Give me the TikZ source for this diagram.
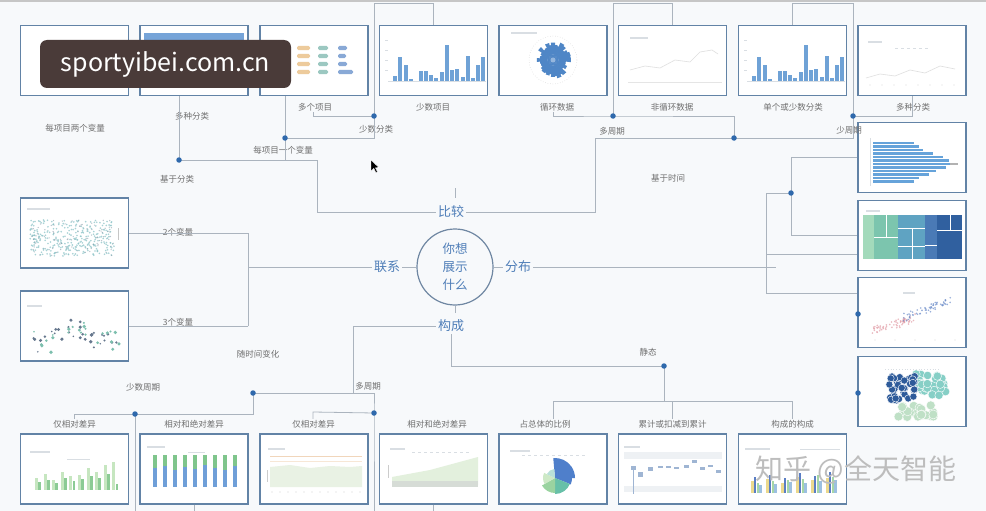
\documentclass[tikz,border=0pt]{standalone}
\usepackage{fontspec}
\setmainfont{Noto Sans CJK SC}
\usetikzlibrary{calc}
\definecolor{bgc}{HTML}{F7F9FB}
\definecolor{boxc}{HTML}{6283A6}
\definecolor{linec}{HTML}{ABB4BE}
\definecolor{dotc}{HTML}{2F69AC}
\definecolor{labc}{HTML}{6F6F6F}
\definecolor{catc}{HTML}{4F7EB8}
\definecolor{ringc}{HTML}{6F87A2}
\definecolor{barc}{HTML}{6FA2D6}
\definecolor{wmc}{HTML}{4A3B39}
\definecolor{faint}{HTML}{D9DEE3}
\definecolor{hdrc}{HTML}{76A4D8}
\definecolor{orc}{HTML}{EDCB9C}
\definecolor{tlc}{HTML}{9CC8C1}
\definecolor{pbc}{HTML}{89A9D6}
\definecolor{polc}{HTML}{4F86C6}
\definecolor{hbc}{HTML}{66A3DA}
\definecolor{tm1}{HTML}{A3DABB}
\definecolor{tm2}{HTML}{7CC5AE}
\definecolor{tm3}{HTML}{5FA3C2}
\definecolor{tm4}{HTML}{4A7AB6}
\definecolor{tm5}{HTML}{30609F}
\definecolor{pkc}{HTML}{E29CA6}
\definecolor{sbl}{HTML}{6F8FCB}
\definecolor{bgn}{HTML}{BFE0C6}
\definecolor{btl}{HTML}{86CFC6}
\definecolor{bdb}{HTML}{2E5B9A}
\definecolor{scl}{HTML}{8CC3C7}
\definecolor{scd}{HTML}{6E8596}
\definecolor{ldk}{HTML}{67788E}
\definecolor{ltl}{HTML}{7DBFAE}
\definecolor{glt}{HTML}{C6E6C0}
\definecolor{gdk}{HTML}{8CCB95}
\definecolor{sgc}{HTML}{7FC58C}
\definecolor{sbc}{HTML}{6F9FD8}
\definecolor{ar1}{HTML}{E9F2E4}
\definecolor{ar2}{HTML}{F1D6BB}
\definecolor{ar3}{HTML}{E3F0DD}
\definecolor{ar4}{HTML}{D6DCD6}
\definecolor{pbl}{HTML}{4F7FCB}
\definecolor{ptl}{HTML}{67C0A8}
\definecolor{pgn}{HTML}{9AD3A0}
\definecolor{ppl}{HTML}{CDE9C6}
\definecolor{plt}{HTML}{B8E0D8}
\definecolor{wfc}{HTML}{9FB5D3}
\definecolor{wfb}{HTML}{EEF1F4}
\definecolor{yel}{HTML}{EBD98E}
\definecolor{gbl}{HTML}{5A7EC4}
\definecolor{ggn}{HTML}{A6D6A6}
\definecolor{glb}{HTML}{9CC0E0}
\definecolor{zhc}{HTML}{BDBDBD}
\begin{document}
\begin{tikzpicture}[x=1pt,y=-1pt,
  box/.style={draw=boxc,line width=1.3pt,fill=white,minimum width=108pt,minimum height=70pt,inner sep=0pt},
  conn/.style={draw=linec,line width=0.8pt},
  dotn/.style={circle,fill=dotc,inner sep=0pt,minimum size=5.5pt},
  lbl/.style={font=\fontsize{8.5}{9}\selectfont,text=labc,inner sep=1pt},
  catl/.style={font=\fontsize{13}{13}\selectfont,text=catc,inner sep=2pt},
  fl/.style={draw=faint,line width=1.2pt}]
\fill[bgc] (0,0) rectangle (986,511);
\useasboundingbox (0,0) rectangle (986,511);
\draw[line width=1.5pt,color=gray!45] (0,1) -- (986,1);
\coordinate (top) at (0,3.5);
\coordinate (bot) at (0,511);

% ---------- boxes
\foreach \n/\x in {t1/74.5,t2/194,t3/314,t4/433.5,t5/553,t6/672.5,t7/792.5,t8/912}
  \node[box] (\n) at (\x,60.5) {};
\foreach \n/\y in {r1/157.5,r2/235.5,r3/312.5,r4/391.5}
  \node[box] (\n) at (912,\y) {};
\foreach \n/\y in {l1/233,l2/326}
  \node[box] (\n) at (74.5,\y) {};
\foreach \n/\x in {b1/74.5,b2/194,b3/314,b4/433.5,b5/553,b6/672.5,b7/792.5}
  \node[box] (\n) at (\x,469) {};

% ---------- thumbnails: top row
\fill[hdrc] (144,33) rectangle (244,40);
\foreach \y in {48,56,64,72}{
  \fill[orc,rounded corners=1.5pt] (297,\y-2.2) rectangle (310,\y+2.2);
  \fill[tlc,rounded corners=1.5pt] (318,\y-2.2) rectangle (328,\y+2.2);}
\foreach \y/\w in {48/9,56/8,64/9,72/15}
  \fill[pbc,rounded corners=1.5pt] (338,\y-2.2) rectangle (338+\w,\y+2.2);
\foreach \s in {0,359}{
  \begin{scope}[xshift=\s pt]
  \draw[faint,line width=0.5pt] (388,81.5) -- (486,81.5);
  \foreach \yy in {40,50,60,70} \draw[faint,line width=0.5pt] (385,\yy) -- (388,\yy);
  \foreach \x/\h in {395/5,400/24,406/16,411/2,421/10,426/10,431/6,436/3,442/9,447/36,452/11,457/12,463/4,468/25,473/3,478/16,483/24}
    \fill[barc] (\x-1.6,81) rectangle (\x+1.6,81-\h);
  \end{scope}}
\draw[gray!35,line width=0.5pt,dotted] (553,60) circle[radius=24];
\pgfmathsetseed{7}
\foreach \a in {0,10,...,350}{
  \pgfmathsetmacro\r{12+7*rnd}
  \pgfmathsetmacro\aa{\a-7}
  \pgfmathsetmacro\ab{\a+7}
  \fill[polc] (553,60) -- ($(553,60)+(\aa:\r)$) -- ($(553,60)+(\ab:\r)$) -- cycle;}
\fill[polc!60!white] (553,60) circle[radius=2.5];
\draw[fl] (511,33) -- (537,33);
\draw[fl] (630,38) -- (648,38);
\draw[gray!25,line width=0.6pt] (630,70) -- (645,66) -- (660,68) -- (675,60) -- (690,62) -- (700,52) -- (712,50) -- (718,54);
\draw[gray!20,line width=0.5pt] (628,82) -- (722,82);
\draw[fl] (868,42) -- (882,42);
\draw[faint,line width=0.8pt,dashed] (895,48) -- (930,48);
\draw[gray!25,line width=0.6pt] (866,78) -- (880,74) -- (895,76) -- (910,70) -- (925,73) -- (940,66) -- (955,69);
\foreach \x in {870,882,...,960} \fill[gray!30] (\x,85) circle[radius=0.7];

% ---------- right column
\foreach \y/\e in {143/914,146.5/919,150/923,153.5/933,157/943,160.5/949,164/958,167.5/946,171/936,174.5/929,178/919,181.5/914}
  \fill[hbc] (873,\y-1.4) rectangle (\e,\y+1.4);
\fill[gray!60] (950,162.6) rectangle (958,165.4);
\draw[faint,line width=0.5pt] (870,138) -- (870,186);
\draw[fl] (866,211) -- (880,211);
\fill[tm1] (863,215) rectangle (874,259);
\fill[tm2] (874,215) rectangle (898,259);
\fill[tm3] (898,215) rectangle (925,259);
\fill[tm4] (925,215) rectangle (937,259);
\fill[tm5] (937,215) rectangle (962,259);
\draw[white,line width=0.4pt] (874,237) -- (898,237) (898,228) -- (925,228) (898,246) -- (925,246) (925,245) -- (937,245) (937,230) -- (962,230) (886,215) -- (886,237) (912,228) -- (912,259) (950,215) -- (950,230);
\pgfmathsetseed{21}
\foreach \i in {1,...,70}{
  \pgfmathsetmacro\t{rnd}
  \pgfmathsetmacro\px{873+42*\t+6*(rnd-0.5)}
  \pgfmathsetmacro\py{331-13*\t+8*(rnd-0.5)}
  \fill[pkc,opacity=.7] (\px,\py) circle[radius=0.9];}
\foreach \i in {1,...,60}{
  \pgfmathsetmacro\t{rnd}
  \pgfmathsetmacro\px{905+45*\t+6*(rnd-0.5)}
  \pgfmathsetmacro\py{318-18*\t+8*(rnd-0.5)}
  \fill[sbl,opacity=.7] (\px,\py) circle[radius=0.9];}
\foreach \x in {875,895,...,955} \fill[gray!30] (\x,340) circle[radius=0.7];
\draw[fl] (903,293) -- (915,293);
\draw[faint,line width=0.8pt,dotted] (885,369) -- (940,369);
\pgfmathsetseed{33}
\foreach \i in {1,...,26}{
  \pgfmathsetmacro\px{916+36*(rnd-0.5)}
  \pgfmathsetmacro\py{411+12*(rnd-0.5)}
  \fill[bgn,draw=white,line width=0.4pt] (\px,\py) circle[radius=4.5];}
\foreach \i in {1,...,36}{
  \pgfmathsetmacro\px{931+30*(rnd-0.5)}
  \pgfmathsetmacro\py{385+22*(rnd-0.5)}
  \fill[btl,draw=white,line width=0.4pt] (\px,\py) circle[radius=4.2];}
\foreach \i in {1,...,40}{
  \pgfmathsetmacro\px{902+26*(rnd-0.5)}
  \pgfmathsetmacro\py{389+26*(rnd-0.5)}
  \fill[bdb,draw=white,line width=0.4pt] (\px,\py) circle[radius=3.6];}

% ---------- left column
\draw[fl] (27,209) -- (50,209);
\pgfmathsetseed{3}
\foreach \i in {1,...,300}{
  \pgfmathsetmacro\px{30+84*rnd}
  \pgfmathsetmacro\py{220+36*rnd}
  \fill[scl,opacity=0.75] (\px,\py) circle[radius=0.9];}
\foreach \i in {1,...,90}{
  \pgfmathsetmacro\px{30+84*rnd}
  \pgfmathsetmacro\py{220+36*rnd}
  \fill[scd,opacity=0.5] (\px,\py) circle[radius=0.7];}
\draw[gray!45,line width=1pt] (118.5,228) -- (118.5,240);
\draw[fl] (27,306) -- (42,306);
\pgfmathsetseed{5}
\foreach \i in {1,...,32}{
  \pgfmathsetmacro\px{30+90*rnd}
  \pgfmathsetmacro\py{335-8*sin(\px*6)+22*(rnd-0.5)}
  \pgfmathsetmacro\rr{0.8+1.1*rnd}
  \fill[ldk] (\px,\py) circle[radius=\rr];}
\foreach \i in {1,...,24}{
  \pgfmathsetmacro\px{30+90*rnd}
  \pgfmathsetmacro\py{335-8*sin(\px*6)+22*(rnd-0.5)}
  \pgfmathsetmacro\rr{0.8+1.1*rnd}
  \fill[ltl] (\px,\py) circle[radius=\rr];}

% ---------- bottom row
\draw[fl] (30,452) -- (50,452);
\draw[faint,line width=0.8pt] (67,459) -- (90,459);
\foreach \i/\ha/\hb in {0/12/8,1/16/10,2/10/7,3/18/12,4/14/9,5/15/11,6/22/14,7/18/12,8/25/16,9/28/6}{
  \pgfmathsetmacro\bx{35+8.6*\i}
  \fill[glt] (\bx,490) rectangle (\bx+3,490-\ha);
  \fill[gdk] (\bx+3.2,490) rectangle (\bx+6,490-\hb);}
\draw[fl] (147,447) -- (165,447);
\draw[faint,line width=0.8pt] (188,452) -- (205,452);
\foreach \i/\m in {0/468,1/466,2/470,3/467,4/469,5/465,6/468,7/470,8/466}{
  \pgfmathsetmacro\bx{155+10*\i}
  \fill[sgc] (\bx-2,455) rectangle (\bx+2,\m);
  \fill[sbc] (\bx-2,\m) rectangle (\bx+2,487);}
\draw[fl] (268,449) -- (285,449);
\fill[ar1] (270,467) -- (290,465) -- (310,468) -- (330,466) -- (350,467) -- (362,466) -- (362,487) -- (270,487) -- cycle;
\draw[ar2,line width=0.8pt] (270,456) -- (362,456);
\draw[ar2!60,line width=0.6pt] (270,461) -- (362,461);
\draw[gray!40,line width=0.6pt] (267,470) -- (267,482);
\foreach \x in {272,280,...,360} \fill[gray!35] (\x,492) circle[radius=0.7];
\draw[fl] (390,449) -- (405,449);
\draw[faint,line width=0.8pt,dashed] (412,452) -- (470,452);
\fill[ar3] (392,485) -- (392,477) -- (430,470) -- (478,457) -- (478,485) -- cycle;
\fill[ar4] (392,481) rectangle (478,487);
\draw[gray!40,line width=0.6pt] (388,465) -- (388,478);
\draw[fl] (510,451) -- (530,451);
\draw[faint,line width=0.8pt,dashed] (522,455) -- (585,455);
\foreach \a/\b/\r/\c in {-95/0/20/pbl,0/22/17/pbl,22/90/16/ptl,90/150/15/pgn,150/205/12/ppl,205/265/9/plt}
  \fill[\c] (555,478) -- ++(\a:\r) arc[start angle=\a,end angle=\b,radius=\r] -- cycle;
\draw[fl] (624,447) -- (640,447);
\fill[wfb] (624,452) rectangle (722,459);
\fill[wfb] (624,486) rectangle (722,492);
\draw[wfc,line width=1pt] (633,466) -- (633,494);
\foreach \x/\y/\h in {633/466/4,640/472/5,650/467/4,660/466/2,668/466/2,676/467/2,686/465/3,694/460/3,702/467/3,710/465/2,718/470/3}
  \fill[wfc] (\x-2.5,\y) rectangle (\x+2.5,\y+\h);
\draw[fl] (745,449) -- (770,449);
\draw[faint,line width=0.8pt] (800,449) -- (840,449);
\foreach \g/\ha/\hb/\hc/\hd in {0/12/16/10/8,1/14/18/12/9,2/10/15/13/11,3/16/20/14/10,4/13/17/18/12,5/15/21/16/13}{
  \pgfmathsetmacro\gx{751+15*\g}
  \fill[yel] (\gx,493) rectangle (\gx+2.6,493-\ha);
  \fill[gbl] (\gx+2.8,493) rectangle (\gx+5.4,493-\hb);
  \fill[ggn] (\gx+5.6,493) rectangle (\gx+8.2,493-\hc);
  \fill[glb] (\gx+8.4,493) rectangle (\gx+11,493-\hd);}

% ---------- centre
\node[circle,draw=ringc,line width=1.2pt,minimum size=76pt,inner sep=0pt,align=center,
      font=\fontsize{12.5}{18}\selectfont,text=catc] (ctr) at (455,267) {你想\\展示\\什么};
\node[catl] (cmp) at (451,212) {比较};
\node[catl] (rel) at (387,267) {联系};
\node[catl] (dst) at (518,267) {分布};
\node[catl] (cps) at (451,326) {构成};

% ---------- labels
\node[lbl] (lt1) at (75,128) {每项目两个变量};
\node[lbl] (lt2) at (192,116) {多种分类};
\node[lbl] (lt3) at (315,107) {多个项目};
\node[lbl] (lt4) at (433,107) {少数项目};
\node[lbl] (lt5) at (557,107) {循环数据};
\node[lbl] (lt6) at (672,107) {非循环数据};
\node[lbl] (lt7) at (793,107) {单个或少数分类};
\node[lbl] (lt8) at (913,107) {多种分类};
\node[lbl] (lA) at (177,179) {基于分类};
\node[lbl] (lB) at (283,150) {每项目一个变量};
\node[lbl] (lC) at (376,129) {少数分类};
\node[lbl] (lD) at (612,131) {多周期};
\node[lbl] (lE) at (668,178) {基于时间};
\node[lbl] (lF) at (849,130) {少周期};
\node[lbl] (lG) at (178,232) {2个变量};
\node[lbl] (lH) at (178,322) {3个变量};
\node[lbl] (lI) at (258,354) {随时间变化};
\node[lbl] (lJ) at (143,387) {少数周期};
\node[lbl] (lK) at (368,386) {多周期};
\node[lbl] (lL) at (648,352) {静态};
\node[lbl] (lb1) at (74.5,424) {仅相对差异};
\node[lbl] (lb2) at (194,424) {相对和绝对差异};
\node[lbl] (lb3) at (313.5,424) {仅相对差异};
\node[lbl] (lb4) at (437,424) {相对和绝对差异};
\node[lbl] (lb5) at (545,424) {占总体的比例};
\node[lbl] (lb6) at (672.5,424) {累计或扣减到累计};
\node[lbl] (lb7) at (792.5,424) {构成的构成};

% ---------- junctions
\coordinate (jA) at (179,160);
\coordinate (jB) at (285,138);
\coordinate (jC) at (374,116);
\coordinate (jD) at (613,116);
\coordinate (jE) at (734,138);
\coordinate (jF) at (853,116);
\coordinate (jG) at (791,193);
\coordinate (jR3) at (858,314);
\coordinate (jR4) at (858,393);
\coordinate (jH) at (253,393);
\coordinate (jI) at (135,414);
\coordinate (jJ) at (374,413);
\coordinate (jK) at (664,366);
\coordinate (k1) at (317,160);
\coordinate (k2) at (595,138);
\coordinate (k3) at (776,267);
\coordinate (k4) at (353,393);
\coordinate (k5) at (374,393);
\coordinate (k6) at (664,401);
\coordinate (k7) at (553,401);
\coordinate (k8) at (792.5,401);
\coordinate (k9) at (313,116);
\coordinate (k10) at (553,116);
\coordinate (k11) at (313,412);
\coordinate (bk1) at (766,193);
\coordinate (bk2) at (766,293);
\coordinate (bk3) at (766,254);
\coordinate (bk4) at (248,233);
\coordinate (bk5) at (248,326);

% ---------- connectors: comparison
\draw[conn] (t2.south -| jA) -- (jA) -- (k1) |- (cmp.west);
\draw[conn] (t3.south -| jB) -- (jB |- jA);
\draw[conn] (jB) -| (jC);
\draw[conn] (jC) -- (jC |- top) -| (t4.north);
\draw[conn] (jC) -- (k9) -- (k9 |- lt3.south);
\draw[conn] (cmp.east) -| (k2) -- (jE);
\draw[conn] (jE) -- (jE |- jD) -- (jD) -- (k10) -- (k10 |- lt5.south);
\draw[conn] (jD) -- (jD |- top) -| (t6.north);
\draw[conn] (jE) -| (jF);
\draw[conn] (jF) -- (jF |- top) -| (t7.north);
\draw[conn] (jF) -| (t8.south);
\draw[conn] (cmp.north) ++(4,-6) -- ++(0,-10);
% distribution
\draw[conn] (dst.east) -- (k3);
\draw[conn] (bk1) -- (jG);
\draw[conn] (bk1) -- (bk2);
\draw[conn] (bk2) -- (r3.west |- bk2);
\draw[conn] (bk3) -- (r2.west |- bk3);
\draw[conn] (r1.west) -| (jG);
\draw[conn] (jG) |- (r2.west);
\draw[conn] (ctr.east) -- (dst.west);
% relationship
\draw[conn] (rel.west) -- (rel.west -| bk4);
\draw[conn] (bk4) -- (bk5);
\draw[conn] (bk4) -- (l1.east |- bk4);
\draw[conn] (bk5) -- (l2.east |- bk5);
\draw[conn] (rel.east) -- (ctr.west);
% composition
\draw[conn] (ctr.south) -- ++(0,7);
\draw[conn] (cps.west) -| (k4);
\draw[conn] (jH) -- (k5) -- (jJ) -- (jJ |- bot);
\draw[conn] (jH) |- (jI);
\draw[conn] (jI) -| (lb1.north);
\draw[conn] (jI) -- (jI |- bot);
\draw[conn] (jJ) -- (k11) -- (k11 |- lb3.north);
\draw[conn] (b2.south) -- (b2.south |- bot);
\draw[conn] (b4.south) -- (b4.south |- bot);
\draw[conn] (cps.south) |- (jK);
\draw[conn] (jK) -- (k6);
\draw[conn] (k7) -- (k8);
\draw[conn] (k7) -- (k7 |- lb5.north);
\draw[conn] (k6 -| lb6.north) -- (lb6.north);
\draw[conn] (k8) -- (lb7.north);

% ---------- dots
\foreach \j in {jA,jB,jC,jD,jE,jF,jG,jR3,jR4,jH,jI,jJ,jK}
  \node[dotn] (d\j) at (\j) {};

% ---------- cursor
\filldraw[fill=black,draw=white,line width=0.4pt] (371,160) -- (371,171) -- (373.8,168.4) -- (375.8,172.6) -- (377.4,171.8) -- (375.4,167.8) -- (379,167.6) -- cycle;

% ---------- watermarks
\node[fill=wmc,rounded corners=7pt,minimum width=251pt,minimum height=48pt,inner sep=0pt,
      text=white,font=\fontsize{25}{25}\selectfont] (wm) at (165.5,64) {sportyibei.com.cn};
\node[text=zhc,font=\fontsize{28}{28}\selectfont,inner sep=0pt] (zh) at (856,470) {知乎 @全天智能};
\end{tikzpicture}
\end{document}
